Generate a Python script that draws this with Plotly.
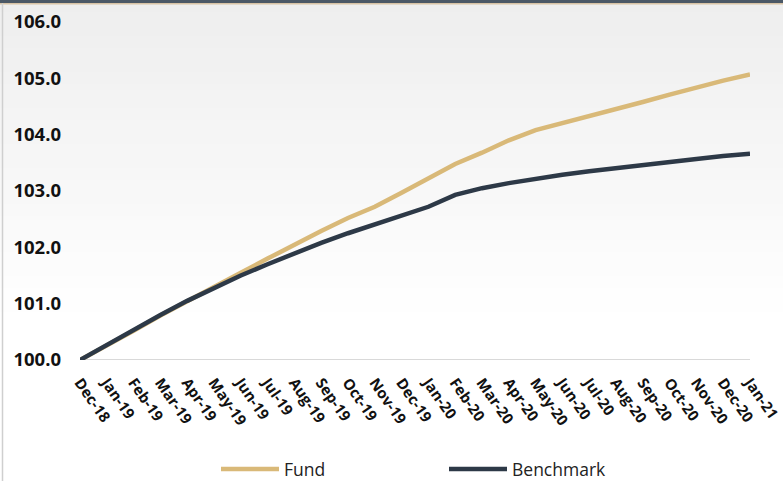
import plotly.graph_objects as go

months = ["Dec-18", "Jan-19", "Feb-19", "Mar-19", "Apr-19", "May-19", "Jun-19", "Jul-19",
          "Aug-19", "Sep-19", "Oct-19", "Nov-19", "Dec-19", "Jan-20", "Feb-20", "Mar-20",
          "Apr-20", "May-20", "Jun-20", "Jul-20", "Aug-20", "Sep-20", "Oct-20", "Nov-20",
          "Dec-20", "Jan-21"]

fund = [100.00, 100.25, 100.52, 100.79, 101.05, 101.30, 101.55, 101.80, 102.05, 102.29,
        102.52, 102.72, 102.97, 103.22, 103.48, 103.68, 103.90, 104.08, 104.20, 104.32,
        104.45, 104.58, 104.71, 104.84, 104.96, 105.07]

benchmark = [100.00, 100.27, 100.54, 100.80, 101.05, 101.28, 101.50, 101.70, 101.90, 102.08,
             102.25, 102.41, 102.56, 102.72, 102.93, 103.05, 103.14, 103.22, 103.29, 103.35,
             103.41, 103.47, 103.52, 103.57, 103.62, 103.66]

y_ticks = [100, 101, 102, 103, 104, 105, 106]
y_tick_labels = ["100.0", "101.0", "102.0", "103.0", "104.0", "105.0", "106.0"]

FUND_COLOR = "#D9B978"
BENCH_COLOR = "#2D3947"

x_idx = list(range(len(months)))

fig = go.Figure()
fig.add_trace(go.Scatter(x=x_idx, y=fund, name="Fund", mode="lines",
                         line=dict(color=FUND_COLOR, width=4.5)))
fig.add_trace(go.Scatter(x=x_idx, y=benchmark, name="Benchmark", mode="lines",
                         line=dict(color=BENCH_COLOR, width=4.5)))

PW, PH = 670, 338  # plot area size in px

# background gradient bands (light grey at top fading to white)
shapes = []
n_bands = 40
top_c = 238
for k in range(n_bands):
    y0 = 1 + 22 / PH - k * 12 / PH
    y1 = 1 + 22 / PH - (k + 1) * 12 / PH
    t = k / (n_bands - 1)
    c = int(round(top_c + (255 - top_c) * min(1.0, t * 1.5)))
    shapes.append(dict(type="rect", xref="paper", yref="paper", x0=-0.2, x1=1.2,
                       y0=y1, y1=y0, fillcolor=f"rgb({c},{c},{c})",
                       line=dict(width=0), layer="below"))
# top border
shapes.append(dict(type="rect", xref="paper", yref="paper", x0=-0.2, x1=1.2,
                   y0=1.0 + 19 / PH, y1=1.0 + 23 / PH, fillcolor="#4B5866",
                   line=dict(width=0), layer="above"))
shapes.append(dict(type="line", xref="paper", yref="paper", x0=-0.2, x1=1.2,
                   y0=1.0 + 18.3 / PH, y1=1.0 + 18.3 / PH,
                   line=dict(color="#D8C3A5", width=1.5), layer="above"))
# left border
shapes.append(dict(type="line", xref="paper", yref="paper", x0=-77.5 / PW, x1=-77.5 / PW,
                   y0=-0.5, y1=1.0 + 19 / PH, line=dict(color="#CFCFCF", width=1.5),
                   layer="above"))
# baseline axis line at 100
shapes.append(dict(type="line", xref="x", yref="y", x0=0, x1=25, y0=100, y1=100,
                   line=dict(color="#D9D9D9", width=2), layer="below"))

fig.update_layout(
    width=783, height=481,
    margin=dict(l=80, r=33, t=22, b=121, autoexpand=False),
    paper_bgcolor="white",
    plot_bgcolor="rgba(0,0,0,0)",
    shapes=shapes,
    showlegend=True,
    legend=dict(orientation="h", x=(216 - 80) / PW, xanchor="left",
                y=-(469 - 360) / PH, yanchor="middle",
                font=dict(family="Open Sans", size=17.5, color="#222222"),
                entrywidth=155, itemwidth=58, bgcolor="rgba(0,0,0,0)"),
    xaxis=dict(
        range=[-0.0001, 25.0001], tickmode="array", tickvals=x_idx, ticktext=months,
        tickangle=55, showgrid=False, zeroline=False, showline=False,
        tickfont=dict(family="Open Sans", size=15, color="#111111", weight="bold"),
        ticks="", fixedrange=True, automargin=False, ticklabelstandoff=10,
        ticklabeloverflow="allow",
    ),
    yaxis=dict(
        range=[100, 106], tickmode="array", tickvals=y_ticks, ticktext=y_tick_labels,
        showgrid=False, zeroline=False, showline=False, ticks="",
        tickfont=dict(family="Open Sans", size=18.5, color="#111111", weight="bold"),
        ticklabelstandoff=18, automargin=False, fixedrange=True,
    ),
)

fig.write_html("out.html", config={"displayModeBar": False, "staticPlot": True},
               post_script="document.body.style.margin='0';document.body.style.overflow='hidden';")
